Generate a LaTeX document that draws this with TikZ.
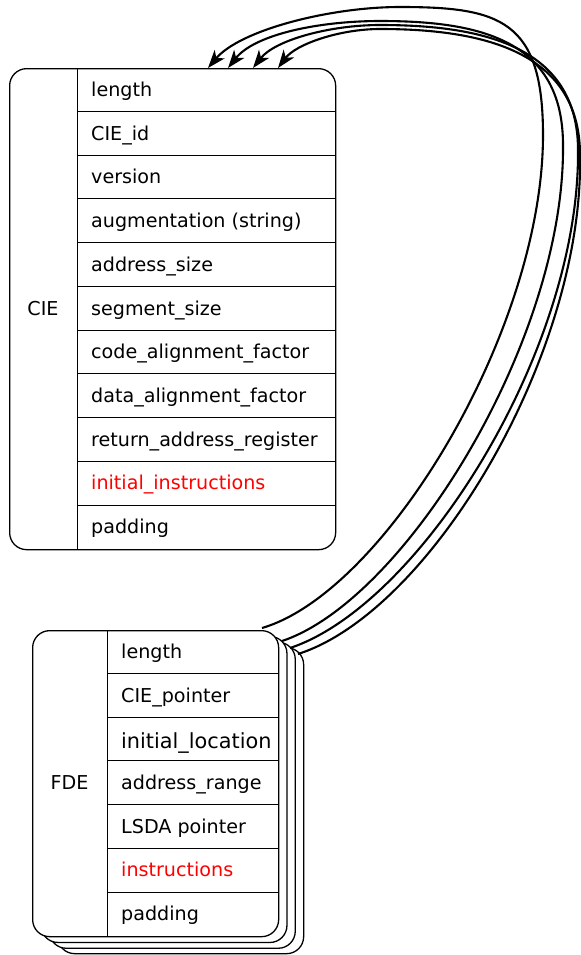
\documentclass[tikz,border=0pt]{standalone}
\usepackage{fontspec}
\setmainfont{DejaVu Sans}
\usetikzlibrary{arrows.meta}
\definecolor{fieldred}{RGB}{255,0,0}

\begin{document}
\begin{tikzpicture}[x=1bp,y=-1bp,
  recbox/.style={draw=black, line width=1.3bp, rounded corners=17bp, fill=white,
                 inner sep=0pt, anchor=north west},
  rowline/.style={line width=1.3bp},
  field/.style={anchor=base west, inner sep=0pt, font=\fontsize{19.2}{22}\selectfont},
  bigfield/.style={field, font=\fontsize{20.9}{24}\selectfont},
  recname/.style={anchor=base, inner sep=0pt, font=\fontsize{19.2}{22}\selectfont},
  conn/.style={line width=2.1bp, line join=round,
               -{Stealth[length=18bp,width=13bp,inset=5bp]}}
]
\useasboundingbox (0,0) rectangle (581,955);

% ---------------- CIE record ----------------
\node[recbox, minimum width=326bp, minimum height=481bp] (cie) at (9,68) {};
\draw[rowline] (77.5,68) -- (77.5,549);
\foreach \y in {111.5,155.5,198.5,242.5,286.5,330.5,373.5,417.5,461.5,505.5}
  \draw[rowline] (77.5,\y) -- (335,\y);
\node[recname] (cielabel) at (43,315) {CIE};
\node[field] (c1)  at (91,{68+43.727*0.5+6.5})  {length};
\node[field] (c2)  at (91,{68+43.727*1.5+6.5})  {CIE\_id};
\node[field] (c3)  at (91,{68+43.727*2.5+6.5})  {version};
\node[field] (c4)  at (91,{68+43.727*3.5+6.5})  {augmentation (string)};
\node[field] (c5)  at (91,{68+43.727*4.5+6.5})  {address\_size};
\node[field] (c6)  at (91,{68+43.727*5.5+6.5})  {segment\_size};
\node[field] (c7)  at (91,{68+43.727*6.5+6.5})  {code\_alignment\_factor};
\node[field] (c8)  at (91,{68+43.727*7.5+6.5})  {data\_alignment\_factor};
\node[field] (c9)  at (91,{68+43.727*8.5+6.5})  {return\_address\_register};
\node[field, text=fieldred] (c10) at (91,{68+43.727*9.5+6.5}) {initial\_instructions};
\node[field] (c11) at (91,{68+43.727*10.5+6.5}) {padding};

% ---------------- FDE records (stacked copies) ----------------
\node[recbox, minimum width=246bp, minimum height=306bp] (fde3) at (57,647) {};
\node[recbox, minimum width=246bp, minimum height=306bp] (fde2) at (48.6,641.6) {};
\node[recbox, minimum width=246bp, minimum height=306bp] (fde1) at (40.3,635.8) {};
\node[recbox, minimum width=246bp, minimum height=306bp] (fde) at (32,630) {};
\draw[rowline] (107.5,630) -- (107.5,936);
\foreach \y in {673.5,717.5,760.5,804.5,848.5,892.5}
  \draw[rowline] (107.5,\y) -- (278,\y);
\node[recname] (fdelabel) at (69.5,789.5) {FDE};
\node[field] (f1) at (121,{630+43.714*0.5+6.5}) {length};
\node[field] (f2) at (121,{630+43.714*1.5+6.5}) {CIE\_pointer};
\node[bigfield] (f3) at (121,748) {initial\_location};
\node[field] (f4) at (121,{630+43.714*3.5+6.5}) {address\_range};
\node[field] (f5) at (121,{630+43.714*4.5+6.5}) {LSDA pointer};
\node[field, text=fieldred] (f6) at (121,{630+43.714*5.5+6.5}) {instructions};
\node[field] (f7) at (121,{630+43.714*6.5+6.5}) {padding};

% ---------------- connector ends ----------------
\coordinate (out0) at (262,628);
\coordinate (out1) at (282,641);
\coordinate (out2) at (290,648);
\coordinate (out3) at (298,654);
\coordinate (in0) at (208,68);
\coordinate (in1) at (228,68);
\coordinate (in2) at (253,68);
\coordinate (in3) at (278,68);

% ---------------- pointers from each FDE back to the CIE ----------------
\draw[conn] (out0) .. controls (385,592) and (543,330) .. (543,135)
                   .. controls (543,20) and (500,7) .. (400,7)
                   .. controls (330,7) and (240,30) .. (in0);
\draw[conn] (out1) .. controls (405,600) and (565,340) .. (563,145)
                   .. controls (563,40) and (480,21) .. (380,21)
                   .. controls (320,21) and (255,34) .. (in1);
\draw[conn] (out2) .. controls (420,605) and (580,350) .. (578,150)
                   .. controls (578,45) and (480,25) .. (380,25)
                   .. controls (330,25) and (275,40) .. (in2);
\draw[conn] (out3) .. controls (430,612) and (584,355) .. (580,155)
                   .. controls (580,50) and (480,29) .. (380,29)
                   .. controls (340,29) and (296,44) .. (in3);
\end{tikzpicture}
\end{document}
